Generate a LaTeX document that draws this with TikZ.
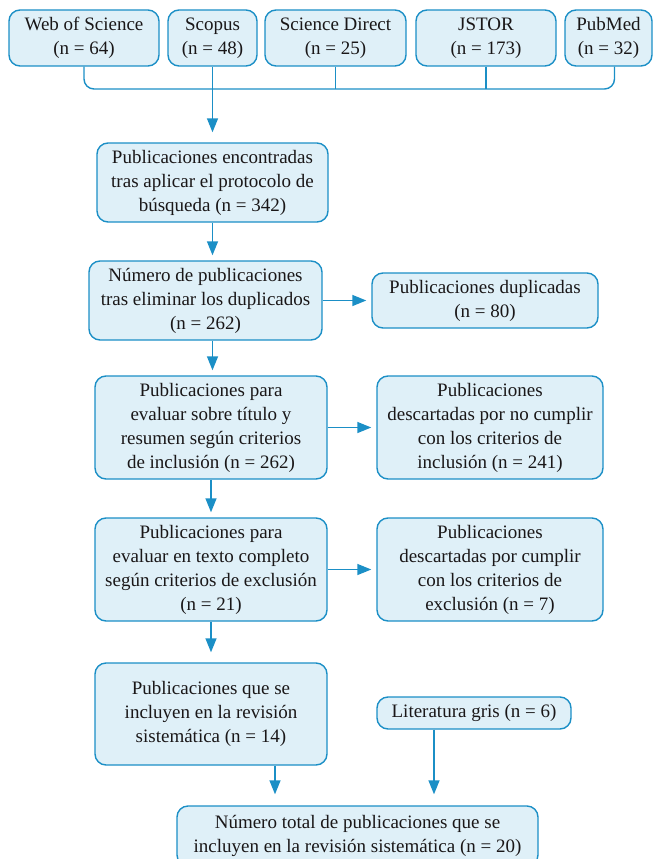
\documentclass[tikz,border=0pt]{standalone}
\usepackage{fontspec}
\setmainfont{Liberation Serif}
\usetikzlibrary{arrows.meta}
\definecolor{flujo}{HTML}{1B8FC6}
\definecolor{caja}{HTML}{DFF0F8}
\definecolor{letra}{HTML}{1A1718}
\begin{document}
\begin{tikzpicture}[x=1pt,y=-1pt,>={Triangle[length=14pt,width=11pt]},
		bloque/.style={draw=flujo,fill=caja,line width=1.4pt,rounded corners=11pt,align=center,inner sep=0pt,text=letra,font=\fontsize{19}{24}\selectfont},
		enlace/.style={flujo,line width=1.4pt},
		flecha/.style={enlace,->,shorten >=5pt}]
	\useasboundingbox (0,0) rectangle (653,859);
	\node[bloque,minimum width=150pt,minimum height=56pt] (wos) at (84,38) {Web of Science\\(n = 64)};
	\node[bloque,minimum width=89pt,minimum height=56pt] (sco) at (212.5,38) {Scopus\\(n = 48)};
	\node[bloque,minimum width=141pt,minimum height=56pt] (sd) at (335.5,38) {Science Direct\\(n = 25)};
	\node[bloque,minimum width=140pt,minimum height=56pt] (jst) at (486,38) {JSTOR\\(n = 173)};
	\node[bloque,minimum width=87pt,minimum height=56pt] (pub) at (608.5,38) {PubMed\\(n = 32)};
	\coordinate (bus) at (212,89);
	\coordinate (pb) at ([xshift=6pt]pub.south);
	\draw[enlace,rounded corners=10pt] (wos.south) |- (pb |- bus) -- (pb);
	\draw[enlace] (sd.south) -- (sd.south |- bus);
	\draw[enlace] (jst.south) -- (jst.south |- bus);
	\node[bloque,minimum width=231pt,minimum height=79pt] (enc) at (212.5,182.5) {Publicaciones encontradas\\tras aplicar el protocolo de\\búsqueda (n = 342)};
	\draw[flecha,shorten >=10pt] (sco.south) -- (enc.north);
	\node[bloque,minimum width=233pt,minimum height=79pt] (num) at (205.5,300.5) {Número de publicaciones\\tras eliminar los duplicados\\(n = 262)};
	\node[bloque,minimum width=226pt,minimum height=55pt] (dup) at (485,300.5) {Publicaciones duplicadas\\(n = 80)};
	\node[bloque,minimum width=232pt,minimum height=103pt] (tit) at (211,427.5) {Publicaciones para\\evaluar sobre título y\\resumen según criterios\\de inclusión (n = 262)};
	\node[bloque,minimum width=226pt,minimum height=103pt] (des1) at (490,427.5) {Publicaciones\\descartadas por no cumplir\\con los criterios de\\inclusión (n = 241)};
	\node[bloque,minimum width=232pt,minimum height=103pt] (tex) at (211,569.5) {Publicaciones para\\evaluar en texto completo\\según criterios de exclusión\\(n = 21)};
	\node[bloque,minimum width=226pt,minimum height=103pt] (des2) at (490,569.5) {Publicaciones\\descartadas por cumplir\\con los criterios de\\exclusión (n = 7)};
	\node[bloque,minimum width=232pt,minimum height=102pt] (inc) at (211,714) {Publicaciones que se\\incluyen en la revisión\\sistemática (n = 14)};
	\node[bloque,minimum width=194pt,minimum height=32pt] (gris) at (474,713) {Literatura gris (n = 6)};
	\node[bloque,minimum width=361pt,minimum height=60pt] (total) at (357.5,836) {Número total de publicaciones que se\\incluyen en la revisión sistemática (n = 20)};
	\draw[flecha] (enc.south) -- (enc.south |- num.north);
	\draw[flecha] (enc.south |- num.south) -- (enc.south |- tit.north);
	\draw[flecha] (num.east) -- (dup.west);
	\draw[flecha] (tit.east) -- (des1.west);
	\draw[flecha] (tit.south) -- (tex.north);
	\draw[flecha] (tex.east) -- (des2.west);
	\draw[flecha,shorten >=10pt] (tex.south) -- (inc.north);
	\coordinate (s1) at ([xshift=64pt]inc.south);
	\coordinate (s2) at ([xshift=-40pt]gris.south);
	\draw[flecha,shorten >=11pt] (s1) -- (s1 |- total.north);
	\draw[flecha,shorten >=11pt] (s2) -- (s2 |- total.north);
\end{tikzpicture}
\end{document}
